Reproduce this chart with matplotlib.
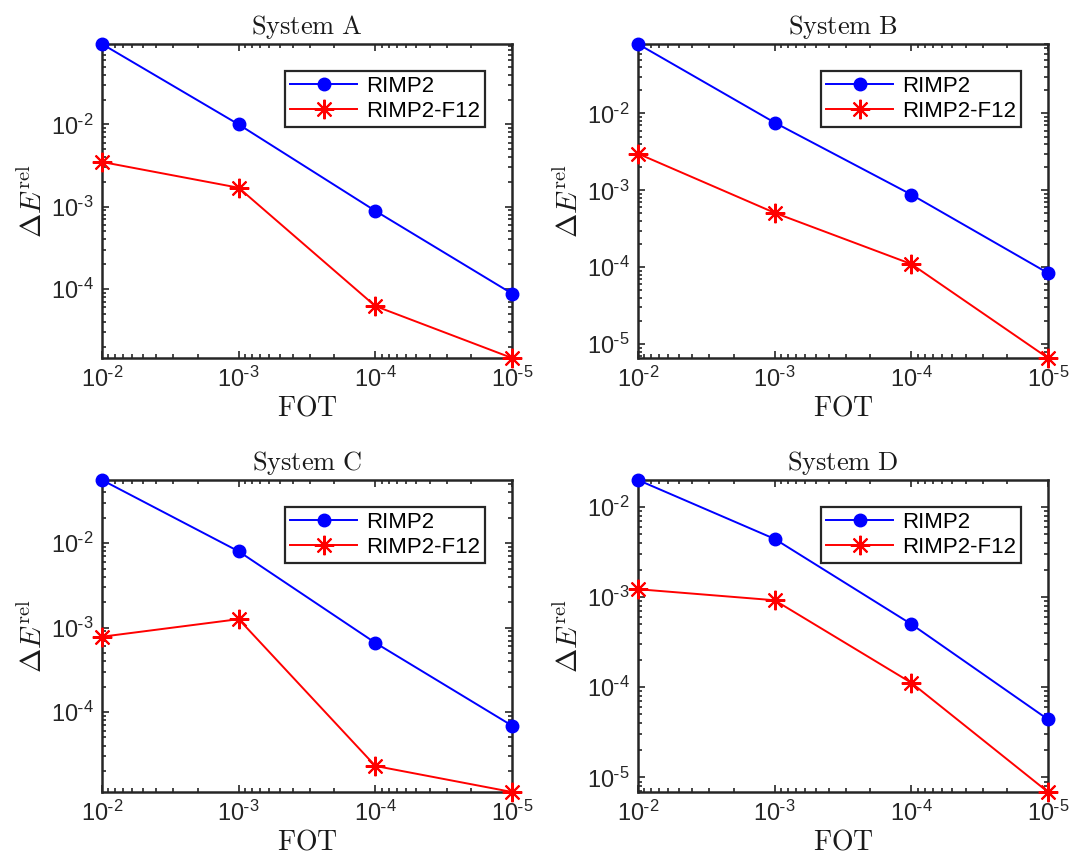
import matplotlib
matplotlib.use("Agg")
import numpy as np
import matplotlib.pyplot as plt
from matplotlib.ticker import LogLocator, NullFormatter, FuncFormatter

plt.rcParams['font.family'] = ['Liberation Sans', 'DejaVu Sans']
plt.rcParams['mathtext.fontset'] = 'cm'

fot = [1e-2, 1e-3, 1e-4, 1e-5]
titles = ['System A', 'System B', 'System C', 'System D']
rimp2 = [
    [0.095, 1.0e-2, 8.9e-4, 8.8e-5],
    [0.080, 7.6e-3, 8.8e-4, 8.4e-5],
    [0.056, 8.0e-3, 6.6e-4, 6.9e-5],
    [0.0198, 4.4e-3, 5.0e-4, 4.4e-5],
]
rimp2_f12 = [
    [3.5e-3, 1.7e-3, 6.2e-5, 1.45e-5],
    [3.0e-3, 5.1e-4, 1.1e-4, 6.6e-6],
    [7.8e-4, 1.26e-3, 2.3e-5, 1.13e-5],
    [1.22e-3, 9.2e-4, 1.12e-4, 6.9e-6],
]
series_labels = ['RIMP2', 'RIMP2-F12']


def fmt(v, pos):
    e = int(round(np.log10(v)))
    if e < 0:
        return r'$\mathdefault{10^{\text{-}%d}}$' % (-e)
    return r'$\mathdefault{10^{%d}}$' % e


W, H = 1071, 863
fig = plt.figure(figsize=(W / 100, H / 100), dpi=100)
# axes boxes in pixels: (left, top, right, bottom)
boxes = [(102, 44, 512, 358), (638, 44, 1048, 358),
         (102, 480, 512, 792), (638, 480, 1048, 792)]
axcol = '#262626'
for i in range(4):
    l, t, r, b = boxes[i]
    ax = fig.add_axes([l / W, 1 - b / H, (r - l) / W, (b - t) / H])
    ax.plot(fot, rimp2[i], color='#0000ff', lw=1.4, marker='o', ms=9,
            label=series_labels[0], clip_on=False, zorder=3)
    ax.plot(fot, rimp2_f12[i], color='#ff0000', lw=1.4, marker=(8, 2, 0), ms=14,
            mew=1.5, label=series_labels[1], clip_on=False, zorder=3)
    ax.set_xscale('log')
    ax.set_yscale('log')
    ax.set_xlim(1e-2, 1e-5)
    ymin = min(min(rimp2[i]), min(rimp2_f12[i]))
    ymax = max(max(rimp2[i]), max(rimp2_f12[i]))
    ax.set_ylim(ymin, ymax)
    for axis in (ax.xaxis, ax.yaxis):
        axis.set_major_locator(LogLocator(base=10, numticks=20))
        axis.set_minor_locator(LogLocator(base=10, subs=range(2, 10), numticks=20))
        axis.set_minor_formatter(NullFormatter())
        axis.set_major_formatter(FuncFormatter(fmt))
    ax.tick_params(which='both', direction='in', top=True, right=True,
                   color=axcol, labelcolor=axcol, width=1.2)
    ax.tick_params(which='major', length=5, labelsize=17, pad=6)
    ax.tick_params(which='minor', length=3)
    for s in ax.spines.values():
        s.set_color(axcol)
        s.set_linewidth(1.8)
        s.set_zorder(2.5)
    ax.set_title(r'$\mathrm{' + titles[i].replace(' ', r'\ ') + '}$', fontsize=19,
                 pad=7, color='#1a1a1a')
    ax.set_xlabel(r'$\mathrm{FOT}$', fontsize=20, color='#1a1a1a', labelpad=3)
    ax.set_ylabel(r'$\Delta E^{\mathrm{rel}}$', fontsize=21, color='#1a1a1a', labelpad=2)
    leg = ax.legend(loc='upper right', fontsize=16, frameon=True, fancybox=False,
                    edgecolor=axcol, framealpha=1, handlelength=3.0,
                    borderaxespad=1.2, borderpad=0.25, handletextpad=0.4,
                    labelspacing=0.15)
    leg.get_frame().set_linewidth(1.6)
    leg.set_zorder(5)

fig.savefig('out.png', dpi=100)
